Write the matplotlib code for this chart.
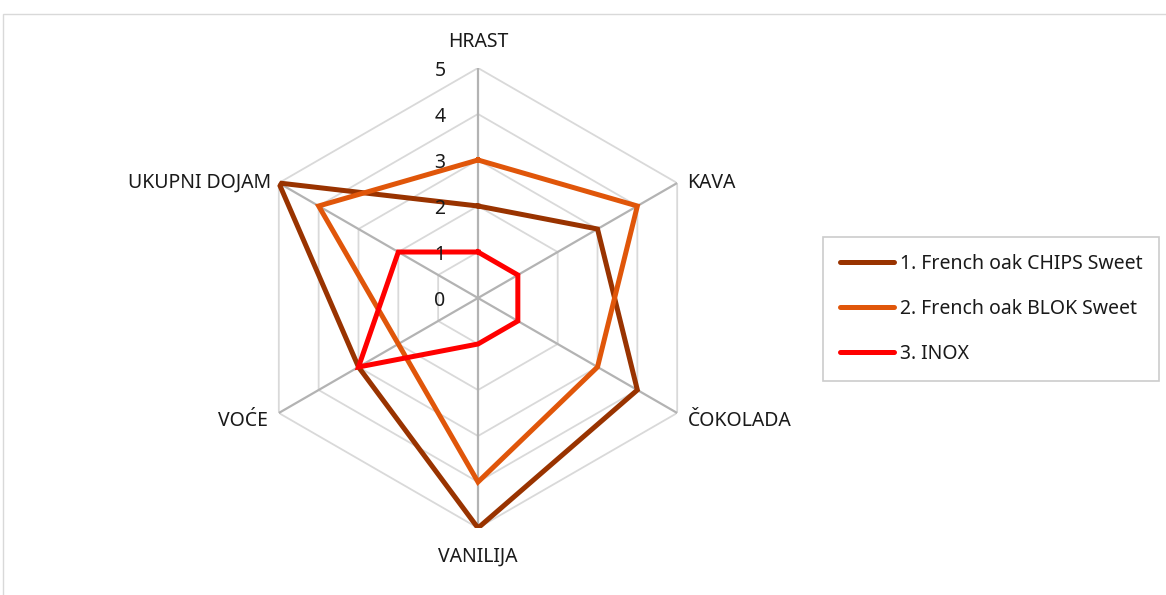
import numpy as np
import matplotlib
matplotlib.use("Agg")
import matplotlib.pyplot as plt
from matplotlib.patches import Rectangle

plt.rcParams['font.family'] = ['Noto Sans', 'DejaVu Sans']

# data
categories = ["HRAST", "KAVA", "ČOKOLADA", "VANILIJA", "VOĆE", "UKUPNI DOJAM"]
chips = [2, 3, 4, 5, 3, 5]
blok = [3, 4, 3, 4, 2, 4]
inox = [1, 1, 1, 1, 3, 2]
series_names = ["1. French oak CHIPS Sweet", "2. French oak BLOK Sweet", "3. INOX"]
levels = [0, 1, 2, 3, 4, 5]

W, H = 1166, 595
fig = plt.figure(figsize=(W / 100, H / 100), dpi=100)

# outer chart border (partly off-canvas like the reference)
fig.patches.append(Rectangle((3 / W, -0.1), 1.2, 1 - 14 / H + 0.1, transform=fig.transFigure,
                             fill=False, edgecolor="#d9d9d9", lw=1.0, zorder=0))

cx, cy, R = 478, 298, 230
ax = fig.add_axes([(cx - R) / W, (H - cy - R) / H, 2 * R / W, 2 * R / H], projection='polar')
ax.set_theta_offset(np.pi / 2)
ax.set_theta_direction(-1)
ax.set_ylim(0, 5)
ax.axis('off')

n = len(categories)
angles = np.linspace(0, 2 * np.pi, n, endpoint=False)
closed = np.append(angles, angles[0])

# hexagonal grid
for lv in levels[1:]:
    ax.plot(closed, [lv] * (n + 1), color="#d9d9d9", lw=1.3, zorder=1)
for a in angles:
    ax.plot([a, a], [0, 5], color="#b3b3b3", lw=1.6, zorder=2)

colors = ["#993300", "#E0560A", "#FF0000"]
for vals, name, c in zip([chips, blok, inox], series_names, colors):
    ax.plot(closed, vals + vals[:1], color=c, lw=3.6, label=name, zorder=3,
            solid_joinstyle='miter')

fs = 14
# radial tick labels
for lv in levels:
    ax.annotate(str(lv), xy=(0, lv), xytext=(-38, -3), textcoords='offset pixels',
                ha='center', va='center', fontsize=fs, color="#1a1a1a")

# category labels
offsets = [(0, 26, 'center'), (10, 0, 'left'), (11, -8, 'left'),
           (0, -29, 'center'), (-11, -8, 'right'), (-8, 0, 'right')]
for a, lab, (dx, dy, ha) in zip(angles, categories, offsets):
    ax.annotate(lab, xy=(a, 5), xytext=(dx, dy), textcoords='offset pixels',
                ha=ha, va='center', fontsize=fs, color="#1a1a1a", annotation_clip=False)

leg = fig.legend(loc='upper left', bbox_to_anchor=(823 / W, 1 - 237 / H), frameon=True,
                 fontsize=fs, handlelength=2.8, labelspacing=1.3, borderpad=0.85,
                 handletextpad=0.3, borderaxespad=0, fancybox=False)
leg.get_frame().set_edgecolor("#bfbfbf")
leg.get_frame().set_linewidth(1.2)
for t in leg.get_texts():
    t.set_color("#1a1a1a")
for line in leg.get_lines():
    line.set_solid_capstyle('round')

fig.savefig("out.png", dpi=100)
